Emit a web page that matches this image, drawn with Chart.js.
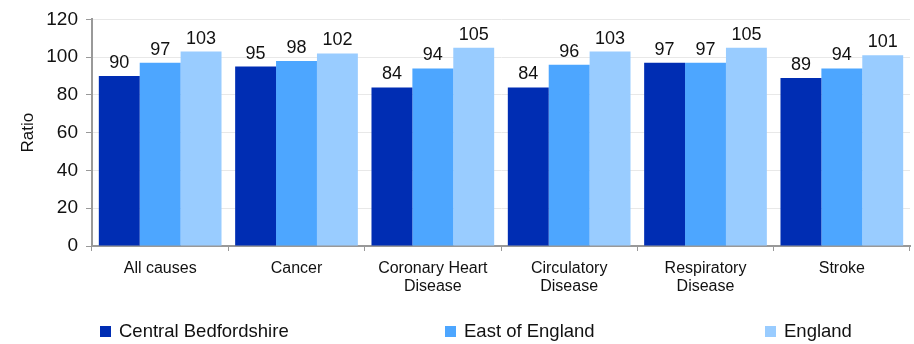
<!DOCTYPE html>
<html>
<head>
<meta charset="utf-8">
<script src="https://cdn.jsdelivr.net/npm/chart.js@4/dist/chart.umd.min.js"></script>
<style>
    body { margin: 0; background: #fff; }
    #wrap { position: relative; width: 914px; height: 344px; }
    #legend {
        position: absolute; top: 320px; left: 0; width: 914px; height: 24px;
        font-family: "Liberation Sans", Arial, sans-serif; font-size: 18.5px; color: #111;
    }
    .item { position: absolute; display: flex; align-items: center; }
    .box { width: 11px; height: 11px; margin-right: 8px; }
</style>
</head>
<body>
<div id="wrap">
    <canvas id="chart" width="914" height="344"></canvas>
    <div id="legend"></div>
</div>
<script>
// Chart data
const categories = ['All causes', 'Cancer', ['Coronary Heart', 'Disease'], ['Circulatory', 'Disease'], ['Respiratory', 'Disease'], 'Stroke'];
const seriesNames = ['Central Bedfordshire', 'East of England', 'England'];
const centralBeds = [90, 95, 84, 84, 97, 89];
const eastEngland = [97, 98, 94, 96, 97, 94];
const englandVals = [103, 102, 105, 103, 105, 101];
const yTicks = [0, 20, 40, 60, 80, 100, 120];

const colors = ['#002db3', '#4da6ff', '#99ccff'];
const font = 'Liberation Sans, Arial, sans-serif';

// value labels above each bar
const valueLabels = {
    id: 'valueLabels',
    afterDatasetsDraw(chart) {
        const ctx = chart.ctx;
        ctx.save();
        ctx.font = '18px ' + font;
        ctx.fillStyle = '#111';
        ctx.textAlign = 'center';
        ctx.textBaseline = 'alphabetic';
        chart.data.datasets.forEach((ds, i) => {
            chart.getDatasetMeta(i).data.forEach((bar, j) => {
                ctx.fillText(ds.data[j], bar.x, bar.y - 8);
            });
        });
        ctx.restore();
    }
};

const values = [centralBeds, eastEngland, englandVals];

new Chart(document.getElementById('chart'), {
    type: 'bar',
    data: {
        labels: categories,
        datasets: seriesNames.map((name, i) => ({
            label: name,
            data: values[i],
            backgroundColor: colors[i],
            borderWidth: 0,
            barPercentage: 1,
            categoryPercentage: 0.9
        }))
    },
    options: {
        responsive: false,
        animation: false,
        layout: { padding: { top: 2, right: 4, left: 18, bottom: 53 } },
        plugins: {
            legend: { display: false },
            tooltip: { enabled: false }
        },
        scales: {
            x: {
                afterFit(scale) { scale.height = 45; },
                grid: {
                    drawOnChartArea: false,
                    drawTicks: true,
                    tickLength: 5,
                    tickColor: '#999',
                    offset: true
                },
                border: { color: '#999', width: 2 },
                ticks: {
                    color: '#111',
                    font: { family: font, size: 16, lineHeight: 1.15 },
                    maxRotation: 0,
                    padding: 8
                }
            },
            y: {
                min: 0,
                max: 120,
                afterBuildTicks(scale) {
                    scale.ticks = yTicks.map(v => ({ value: v }));
                },
                afterFit(scale) { scale.width = 74; },
                grid: {
                    color: '#e8e8e8',
                    tickColor: '#999',
                    tickLength: 6
                },
                border: { color: '#999', width: 2 },
                ticks: {
                    color: '#111',
                    font: { family: font, size: 19 },
                    padding: 8
                },
                title: {
                    display: true,
                    text: 'Ratio',
                    color: '#111',
                    font: { family: font, size: 17 },
                    padding: { top: 0, bottom: 0 }
                }
            }
        }
    },
    plugins: [valueLabels]
});

// legend spread along the bottom
const legendX = [100, 445, 765];
const legend = document.getElementById('legend');
seriesNames.forEach((name, i) => {
    const item = document.createElement('div');
    item.className = 'item';
    item.style.left = legendX[i] + 'px';
    item.innerHTML = '<span class="box" style="background:' + colors[i] + '"></span><span>' + name + '</span>';
    legend.appendChild(item);
});
</script>
</body>
</html>
